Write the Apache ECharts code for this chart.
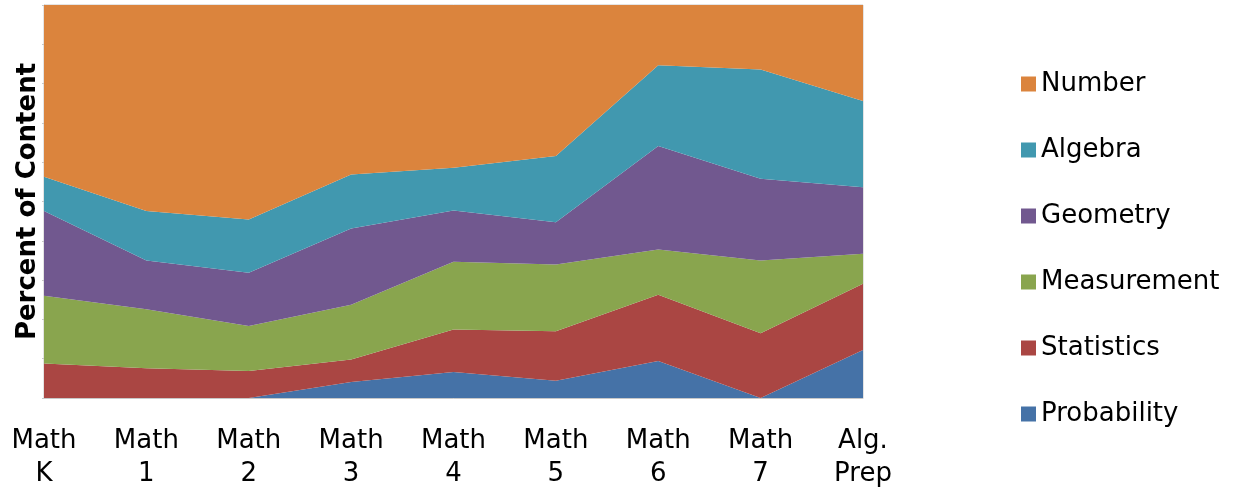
<!DOCTYPE html>
<html><head><meta charset="utf-8">
<script src="https://cdn.jsdelivr.net/npm/echarts@6/dist/echarts.min.js"></script>
<style>html,body{margin:0;padding:0;background:#fff}#c{width:1243px;height:491px}</style>
</head><body><div id="c"></div>
<script>
var categories = ['Math\nK','Math\n1','Math\n2','Math\n3','Math\n4','Math\n5','Math\n6','Math\n7','Alg.\nPrep'];
var probability = [0, 0, 0, 4.1, 6.6, 4.4, 9.4, 0, 12.2];
var statistics  = [8.8, 7.6, 6.9, 5.7, 10.8, 12.6, 16.9, 16.5, 16.9];
var measurement = [17.2, 15.0, 11.4, 13.9, 17.3, 17.0, 11.5, 18.5, 7.6];
var geometry    = [21.6, 12.4, 13.6, 19.4, 13.0, 10.7, 26.3, 20.8, 16.9];
var algebra     = [8.7, 12.6, 13.5, 13.8, 10.9, 16.9, 20.6, 27.8, 22.0];
var number      = [43.7, 52.4, 54.6, 43.1, 41.4, 38.4, 15.3, 16.4, 24.4];
var legendOrder = ['Number','Algebra','Geometry','Measurement','Statistics','Probability'];

var colors = {Probability:'#4572A7', Statistics:'#AA4643', Measurement:'#89A54E', Geometry:'#71588F', Algebra:'#4198AF', Number:'#DB843D'};
function mk(name, data){
  return {name:name, type:'line', stack:'total', data:data, showSymbol:false, symbol:'none',
    lineStyle:{width:0}, areaStyle:{color:colors[name], opacity:1}, itemStyle:{color:colors[name]}};
}
var chart = echarts.init(document.getElementById('c'), null, {renderer:'canvas'});
chart.setOption({
  animation:false,
  textStyle:{fontFamily:'DejaVu Sans'},
  grid:{left:44, right:380, top:5, bottom:93, show:true, borderColor:'#c8c8c8', borderWidth:1},
  legend:{orient:'vertical', left:1021, top:71, padding:0, itemWidth:15, itemHeight:15, icon:'rect', itemGap:40,
    data:legendOrder, textStyle:{fontSize:26, color:'#000', fontFamily:'DejaVu Sans', lineHeight:26}},
  xAxis:{type:'category', data:categories, boundaryGap:false,
    axisLine:{show:true, lineStyle:{color:'#c8c8c8'}}, axisTick:{show:false},
    axisLabel:{fontSize:26, color:'#000', lineHeight:33, margin:27, fontFamily:'DejaVu Sans'}},
  yAxis:{type:'value', min:0, max:100, interval:10,
    name:'Percent of Content', nameLocation:'middle', nameGap:3,
    nameTextStyle:{fontSize:26, fontWeight:'bold', color:'#000', fontFamily:'DejaVu Sans'},
    axisLabel:{show:false}, splitLine:{show:false},
    axisLine:{show:true, lineStyle:{color:'#c8c8c8'}},
    axisTick:{show:true, length:2, lineStyle:{color:'#c8c8c8'}}},
  series:[mk('Probability',probability), mk('Statistics',statistics), mk('Measurement',measurement),
          mk('Geometry',geometry), mk('Algebra',algebra), mk('Number',number)]
});
</script></body></html>
